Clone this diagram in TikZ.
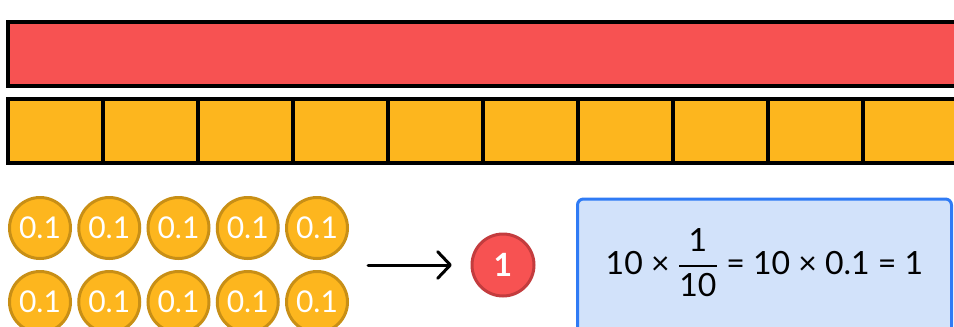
\documentclass[tikz,border=0pt]{standalone}
\usepackage{fontspec}
\setmainfont{Lato}
\usepackage{amsmath}
\usepackage{xcolor}
\usetikzlibrary{positioning,arrows.meta}

\definecolor{wholered}{RGB}{247,82,82}
\definecolor{tenthgold}{RGB}{253,182,30}
\definecolor{coinrim}{RGB}{200,143,22}
\definecolor{onerim}{RGB}{195,60,62}
\definecolor{sumfill}{RGB}{210,226,250}
\definecolor{sumline}{RGB}{47,123,245}

\tikzset{
    tenthcell/.style={draw, line width=2.6pt, fill=tenthgold, minimum width=71.25pt, minimum height=48pt},
    coin/.style={circle, draw=coinrim, line width=2.25pt, fill=tenthgold, minimum size=45.75pt, inner sep=0pt,
        text=white, font=\fontsize{22.5}{22.5}\selectfont},
}

\begin{document}
\begin{tikzpicture}[x=0.75pt, y=-0.75pt]
    \useasboundingbox (0,0) rectangle (954,326);
    \clip (0,0) rectangle (954,326);

    % the whole and its ten tenths
    \node (whole) [draw, line width=3pt, fill=wholered, minimum width=712.5pt, minimum height=48pt] at (483,54) {};
    \foreach \i in {1,...,10}
        \node (cell\i) [tenthcell] at ({55.5+95*(\i-1)},131) {};

    % ten coins of 0.1
    \foreach \j in {1,...,5} {
        \node (top\j) [coin] at ({40+69.25*(\j-1)},228) {0.1};
        \node (low\j) [coin] at ({40+69.25*(\j-1)},302) {0.1};
    }

    \node (one) [circle, draw=onerim, line width=2.25pt, fill=wholered, minimum size=46.5pt, inner sep=0pt,
        text=white, font=\fontsize{24}{24}\selectfont\bfseries] at (503,265) {1};

    \coordinate (start) at (368,265);
    \draw [-{Straight Barb[length=9.5pt, width=20pt, line cap=round, line join=round]}, line width=2.25pt, line cap=round, shorten >=14pt] (start) -- (one);

    \node (sumbox) [draw=sumline, line width=2.25pt, fill=sumfill, rounded corners=4.5pt, minimum width=280.5pt, minimum height=120pt,
        anchor=north] at (764.5,197.5) {};
    \node (sum) [font=\fontsize{24}{24}\selectfont] at (764.5,263) {10 × $\dfrac{\mbox{1}}{\mbox{10}}$ = 10 × 0.1 = 1};
\end{tikzpicture}
\end{document}
